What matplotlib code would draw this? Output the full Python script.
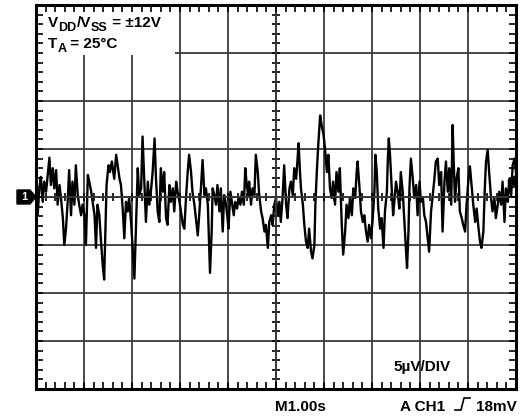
import matplotlib
matplotlib.use("Agg")
import matplotlib.pyplot as plt
from matplotlib.patches import Rectangle, Polygon
from matplotlib.lines import Line2D
from matplotlib.ticker import MultipleLocator

plt.rcParams['font.family'] = ['Liberation Sans', 'DejaVu Sans']

# time (s) and noise voltage (uV)
time_s = [0.00, 0.035, 0.07, 0.10, 0.14, 0.17, 0.21, 0.28, 0.31, 0.35, 0.38, 0.42, 0.45, 0.49, 0.52, 0.56,
          0.59, 0.625, 0.66, 0.69, 0.73, 0.76, 0.80, 0.83, 0.87, 0.90, 0.94, 0.97, 1.01, 1.04, 1.08, 1.11,
          1.15, 1.18, 1.22, 1.25, 1.28, 1.32, 1.35, 1.39, 1.42, 1.44, 1.47, 1.51, 1.54, 1.58, 1.63, 1.67,
          1.70, 1.74, 1.77, 1.81, 1.84, 1.875, 1.91, 1.94, 1.98, 2.01, 2.05, 2.07, 2.10, 2.12, 2.15, 2.19,
          2.22, 2.26, 2.29, 2.33, 2.36, 2.40, 2.43, 2.47, 2.50, 2.535, 2.57, 2.60, 2.64, 2.67, 2.71, 2.74,
          2.78, 2.81, 2.85, 2.88, 2.92, 2.95, 2.99, 3.02, 3.06, 3.09, 3.125, 3.16, 3.19, 3.23, 3.26, 3.30,
          3.33, 3.37, 3.40, 3.44, 3.47, 3.51, 3.54, 3.58, 3.61, 3.625, 3.66, 3.68, 3.715, 3.75, 3.78, 3.82,
          3.85, 3.89, 3.92, 3.96, 3.99, 4.01, 4.05, 4.08, 4.12, 4.15, 4.19, 4.22, 4.26, 4.29, 4.33, 4.36,
          4.39, 4.42, 4.44, 4.48, 4.51, 4.55, 4.58, 4.62, 4.65, 4.69, 4.72, 4.76, 4.79, 4.83, 4.86, 4.90,
          4.93, 4.965, 5.00, 5.035, 5.07, 5.10, 5.14, 5.17, 5.21, 5.24, 5.28, 5.31, 5.35, 5.38, 5.42, 5.45,
          5.47, 5.50, 5.52, 5.56, 5.59, 5.625, 5.66, 5.69, 5.73, 5.76, 5.80, 5.82, 5.85, 5.88, 5.92, 5.95,
          5.99, 6.02, 6.06, 6.09, 6.125, 6.16, 6.19, 6.23, 6.26, 6.30, 6.33, 6.37, 6.40, 6.44, 6.47, 6.51,
          6.54, 6.58, 6.61, 6.65, 6.68, 6.70, 6.74, 6.77, 6.81, 6.84, 6.875, 6.91, 6.94, 6.98, 7.01, 7.05,
          7.07, 7.10, 7.13, 7.17, 7.20, 7.24, 7.27, 7.31, 7.33, 7.35, 7.375, 7.41, 7.44, 7.465, 7.50, 7.535,
          7.57, 7.60, 7.64, 7.67, 7.71, 7.73, 7.76, 7.78, 7.81, 7.85, 7.88, 7.92, 7.95, 7.99, 8.02, 8.06,
          8.09, 8.125, 8.16, 8.19, 8.23, 8.26, 8.30, 8.33, 8.37, 8.40, 8.44, 8.47, 8.51, 8.54, 8.58, 8.61,
          8.65, 8.68, 8.70, 8.73, 8.76, 8.80, 8.83, 8.87, 8.90, 8.94, 8.97, 9.01, 9.04, 9.08, 9.11, 9.15,
          9.18, 9.22, 9.25, 9.28, 9.32, 9.35, 9.375, 9.41, 9.44, 9.48, 9.51, 9.55, 9.58, 9.62, 9.65, 9.69,
          9.72, 9.76, 9.79, 9.83, 9.86, 9.90, 9.93, 9.97, 10.0]
noise_uV = [1.25, -1.87, 0.9, 2.1, -0.5, 1.6, 0.55, 4.1, 1.25, 3.0, 0.9, 2.8, -0.8, 1.25, -0.1, -2.2,
            -5.0, -3.3, -0.5, 2.8, -1.9, 1.6, -0.8, 3.3, 0.2, -0.8, -1.9, -0.8, -1.9, -5.0, 2.3, 1.6,
            0.55, -0.5, -1.9, -5.3, -0.8, -1.9, -4.3, -7.1, -8.6, -4.65, 1.25, 3.3, 2.6, 3.7, 1.9, 4.4,
            3.3, 1.9, 1.25, -1.5, -4.3, -0.5, -1.5, -0.1, -2.6, -5.0, -8.5, -5.3, -0.8, 3.0, 0.2, 0.9,
            6.3, 1.25, -2.6, 1.6, -0.8, 0.9, 2.6, 6.1, 1.9, -1.5, -2.6, 3.0, 0.55, 2.6, -2.2, -2.9,
            1.25, -0.5, 0.9, -1.5, 1.6, 0.55, -0.5, -1.5, -2.9, -3.3, -0.1, 2.6, 4.4, 2.6, 0.55, -0.8,
            -2.2, -4.0, -1.9, 1.25, 3.85, 0.2, 0.9, -0.8, -5.7, -7.9, -3.6, 0.9, 0.2, -0.8, 1.25, -1.5,
            0.9, -3.6, 0.2, -0.8, -2.2, -3.3, 0.55, -0.5, -1.9, -0.5, -1.2, -0.1, -0.8, 0.55, -0.8, 3.0,
            1.25, 0.2, 1.6, -0.8, 0.9, 0.2, 4.4, 2.6, 0.2, -1.5, -2.2, -3.6, -2.9, -5.3, -2.6, -1.9,
            -2.9, -0.8, -0.1, -1.9, -0.5, -2.6, 0.2, 3.3, -0.8, -2.2, 0.9, 1.6, 0.2, 3.0, 1.9, 4.0,
            5.6, 2.6, 0.9, -0.8, -2.9, -4.65, -5.3, -3.3, -5.7, -6.4, -5.0, -0.8, 2.6, 5.4, 8.5, 7.5,
            6.5, 5.1, 2.6, 4.4, 0.9, -0.1, 1.6, -0.8, 2.6, 0.55, 3.0, -2.9, -6.0, -3.6, -0.8, -2.2,
            -0.1, -1.9, 0.9, -0.1, 2.6, 3.7, 0.9, -1.5, -2.6, -1.9, -3.6, -4.65, -2.9, -4.3, -2.6, 0.55,
            4.4, 2.6, -1.2, -3.3, -2.2, -5.3, -1.5, 0.55, 4.0, 6.1, 4.4, 0.9, -1.9, -0.5, 1.6, 0.55,
            -1.2, 2.6, 0.55, -2.2, -5.7, -7.4, -3.6, 0.9, 4.0, 1.9, -0.1, 1.25, -1.9, 1.6, -0.5, -0.1,
            -1.9, -2.6, -4.3, -5.7, -1.5, -0.1, 1.9, 3.7, 4.0, 1.25, 2.6, -3.6, 1.6, 3.7, 0.55, 3.0,
            -0.8, 7.5, 4.0, -0.5, 1.9, 3.0, -1.5, -2.2, -2.9, -3.6, -0.8, 1.9, 3.2, 0.9, -0.8, -2.6,
            -1.2, -3.3, -4.65, -5.3, -3.6, 0.9, 3.7, 4.9, 2.6, -0.1, -1.5, -0.1, -2.2, -0.8, 0.55, -0.8,
            1.6, -2.6, 0.9, -0.5, 1.9, 0.2, 3.3, 4.0, 2.6]

x_divs = 10   # 1.00 s / div
y_divs = 8    # 5 uV / div
sec_per_div = 1.0
uv_per_div = 5.0

W, H = 525, 418
fig = plt.figure(figsize=(W / 100, H / 100), dpi=100)
L, R, T, B = 36, 516, 5, 389
rect = [L / W, 1 - B / H, (R - L) / W, (B - T) / H]

xmax = x_divs * sec_per_div
ymax = y_divs / 2 * uv_per_div
grid_col = '#3a3a3a'

# base axes: grid, trace, label box
ax = fig.add_axes(rect)
ax.set_xlim(0, xmax)
ax.set_ylim(-ymax, ymax)
ax.tick_params(length=0, labelbottom=False, labelleft=False)
ax.set_xticks([i * sec_per_div for i in range(x_divs + 1)])
ax.set_yticks([(i - y_divs / 2) * uv_per_div for i in range(y_divs + 1)])
ax.set_axisbelow(True)
ax.grid(True, color=grid_col, linewidth=1.3)
for s in ax.spines.values():
    s.set_visible(False)
ax.add_patch(Rectangle((0, (197 - 55) / 48 * uv_per_div), (175 - 36) / 48 * sec_per_div, 10,
                       facecolor='white', edgecolor='none', zorder=1))
ax.plot(time_s, noise_uV, color='black', linewidth=1.7, zorder=3)

# center cross with ticks
axc = fig.add_axes(rect)
axc.set_xlim(0, xmax)
axc.set_ylim(-ymax, ymax)
axc.patch.set_visible(False)
axc.spines['left'].set_position(('data', xmax / 2))
axc.spines['bottom'].set_position(('data', 0))
axc.spines['right'].set_visible(False)
axc.spines['top'].set_visible(False)
for s in ('left', 'bottom'):
    axc.spines[s].set_color(grid_col)
    axc.spines[s].set_linewidth(1.3)
axc.xaxis.set_major_locator(MultipleLocator(sec_per_div / 5))
axc.yaxis.set_major_locator(MultipleLocator(uv_per_div / 5))
axc.tick_params(which='both', direction='inout', length=6, width=1.2, color='black',
                labelbottom=False, labelleft=False)

# border with inward ticks
axb = fig.add_axes(rect)
axb.set_xlim(0, xmax)
axb.set_ylim(-ymax, ymax)
axb.patch.set_visible(False)
for s in axb.spines.values():
    s.set_linewidth(2.2)
    s.set_color('black')
axb.xaxis.set_major_locator(MultipleLocator(sec_per_div / 5))
axb.yaxis.set_major_locator(MultipleLocator(uv_per_div / 5))
axb.tick_params(which='both', direction='in', length=5, width=1.2, color='black',
                top=True, right=True, labelbottom=False, labelleft=False)


def fx(px):
    return px / W


def fy(py):
    return 1 - py / H


fs = 11
fs_sub = 9
renderer = fig.canvas.get_renderer()


def text_run(x0, y0, parts):
    """parts: list of (string, is_subscript); x0,y0 in pixels (baseline)."""
    x = x0
    for s, sub in parts:
        t = fig.text(fx(x), fy(y0 + (4 if sub else 0)), s, fontsize=fs_sub if sub else fs,
                     fontweight='bold', va='baseline', ha='left')
        x += t.get_window_extent(renderer=renderer).width


text_run(48, 27, [('V', False), ('DD', True), ('/V', False), ('SS', True), (' = ±12V', False)])
text_run(48, 48, [('T', False), ('A', True), (' = 25°C', False)])

fig.text(fx(393), fy(371), '5µV/DIV', fontsize=fs, fontweight='bold', va='baseline')
fig.text(fx(275), fy(411), 'M1.00s', fontsize=fs, fontweight='bold', va='baseline')
fig.text(fx(400), fy(411), 'A CH1', fontsize=fs, fontweight='bold', va='baseline')
fig.text(fx(517), fy(411), '18mV', fontsize=fs, fontweight='bold', va='baseline', ha='right')
fig.add_artist(Line2D([fx(455), fx(461), fx(464), fx(470)], [fy(410), fy(410), fy(398), fy(398)],
                      color='black', linewidth=1.2, transform=fig.transFigure))

# channel 1 marker
fig.add_artist(Polygon([(fx(17), fy(190)), (fx(30), fy(190)), (fx(36), fy(197)),
                        (fx(30), fy(204)), (fx(17), fy(204))], closed=True,
                       facecolor='black', edgecolor='black', transform=fig.transFigure))
fig.text(fx(24), fy(197), '1', color='white', fontsize=8, fontweight='bold', ha='center', va='center')
# trigger level marker
fig.add_artist(Polygon([(fx(508), fy(181)), (fx(515), fy(176)), (fx(515), fy(186))], closed=True,
                       facecolor='black', edgecolor='black', transform=fig.transFigure))

fig.savefig('out.png', dpi=100)
